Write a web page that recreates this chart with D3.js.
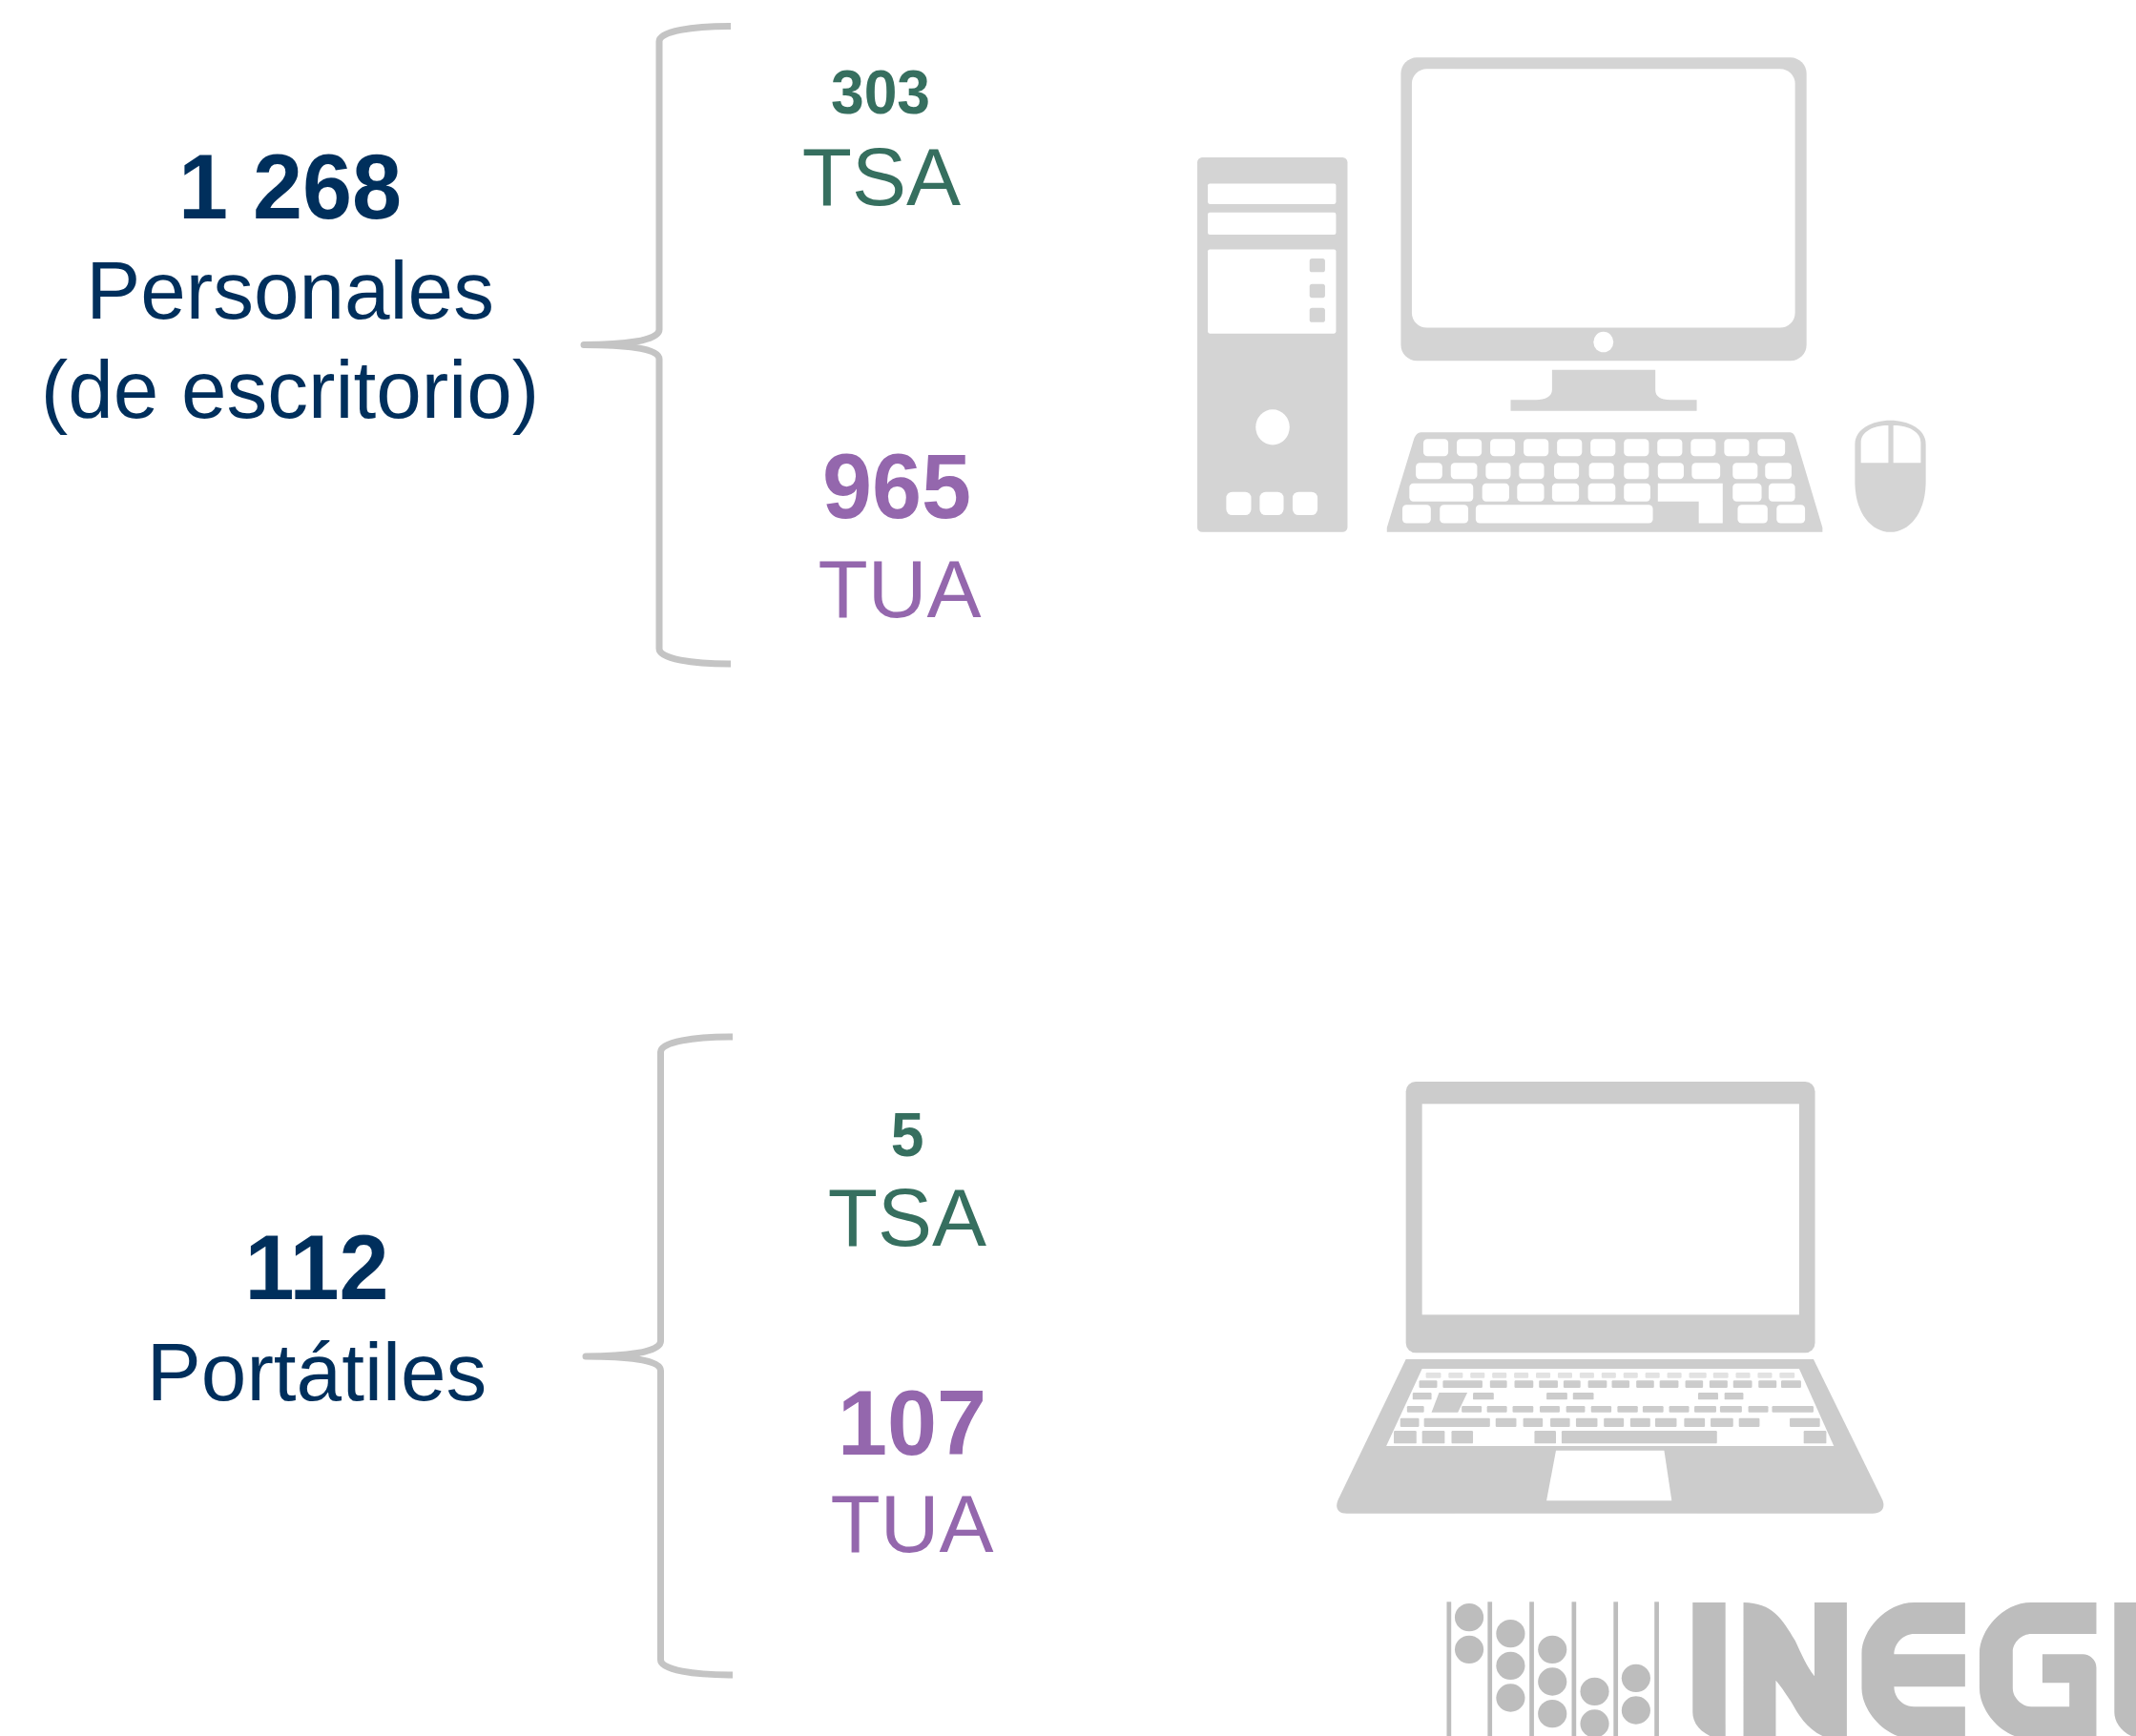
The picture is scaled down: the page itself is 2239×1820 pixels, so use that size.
<!DOCTYPE html>
<html>
<head>
<meta charset="utf-8">
<script src="https://cdn.jsdelivr.net/npm/d3@7"></script>
<style>
	html, body { margin: 0; padding: 0; background: #fff; overflow: hidden; }
	text { font-family: "Liberation Sans", Arial, sans-serif; text-anchor: middle; }
</style>
</head>
<body>
<div id="chart"></div>
<script>
// data
var groupNames = ['Personales', 'Portátiles'];
var groupNotes = ['(de escritorio)', null];
var groupTotals = [1268, 112];
var splitNames = ['TSA', 'TUA'];
var tsaValues = [303, 5];
var tuaValues = [965, 107];

var width = 2239, height = 1820;
var navy = '#002f5c', green = '#366f5f', purple = '#9467ad';
var braceColor = '#c4c4c4';
var towerGrey = '#d4d4d4', laptopGrey = '#cccccc', logoGrey = '#bdbdbd';
var labelSize = 85.5;

var fmt = d3.formatLocale({ decimal: '.', thousands: ' ', grouping: [3], currency: ['', ''] }).format(',d');

// layout, one entry per group
var totalLayout = [
	{ x: 304, total: 229, name: 334, note: 438 },
	{ x: 332, total: 1362, name: 1468 }
];
var tsaLayout = [
	{ xVal: 923, xName: 924, val: 119, name: 215, size: 64 },
	{ xVal: 951, xName: 951, val: 1212, name: 1306, size: 64 }
];
var tuaLayout = [
	{ xVal: 940, xName: 943, val: 543, name: 647, size: 96 },
	{ xVal: 956, xName: 956, val: 1525, name: 1627, size: 96 }
];
var braceLayout = [
	{ spine: 691, end: 766, tip: 612, top: 27.5, mid: 361.5, bottom: 696 },
	{ spine: 692.5, end: 768, tip: 614, top: 1087, mid: 1422, bottom: 1756 }
];

var svg = d3.select('#chart').append('svg')
	.attr('width', width)
	.attr('height', height)
	.style('display', 'block');

function addText(str, x, y, size, color, bold) {
	svg.append('text')
		.attr('transform', 'translate(' + x + ',' + y + ') scale(' + (bold ? 0.975 : 1) + ',1)')
		.attr('font-size', size)
		.attr('font-weight', bold ? 'bold' : 'normal')
		.attr('fill', color)
		.text(str);
}

// braces
function bracePath(b) {
	var p = d3.path();
	p.moveTo(b.end, b.top);
	p.bezierCurveTo(b.end - 40, b.top, b.spine, b.top + 5, b.spine, b.top + 16);
	p.lineTo(b.spine, b.mid - 16);
	p.bezierCurveTo(b.spine, b.mid - 4, b.tip + 40, b.mid, b.tip, b.mid);
	p.bezierCurveTo(b.tip + 40, b.mid, b.spine, b.mid + 3, b.spine, b.mid + 15);
	p.lineTo(b.spine, b.bottom - 16);
	p.bezierCurveTo(b.spine, b.bottom - 5, b.end - 40, b.bottom, b.end, b.bottom);
	return p.toString();
}
svg.selectAll('path.brace')
	.data(braceLayout)
	.enter()
	.append('path')
	.attr('class', 'brace')
	.attr('d', bracePath)
	.attr('fill', 'none')
	.attr('stroke', braceColor)
	.attr('stroke-width', 7)
	.attr('stroke-linejoin', 'round');

// labels
groupNames.forEach(function(name, i) {
	var t = totalLayout[i];
	addText(fmt(groupTotals[i]), t.x, t.total, 96, navy, true);
	addText(name, t.x, t.name, labelSize, navy, false);
	if (groupNotes[i]) addText(groupNotes[i], t.x, t.note, labelSize, navy, false);

	var a = tsaLayout[i];
	addText(tsaValues[i], a.xVal, a.val, a.size, green, true);
	addText(splitNames[0], a.xName, a.name, labelSize, green, false);

	var u = tuaLayout[i];
	addText(tuaValues[i], u.xVal, u.val, u.size, purple, true);
	addText(splitNames[1], u.xName, u.name, labelSize, purple, false);
});

// the icons are drawn in stretched crop coordinates, ratio keeps corners round on the page
function rects(g, list, fill, r, ratio) {
	g.selectAll(null)
		.data(list)
		.enter()
		.append('rect')
		.attr('x', function(d) { return d[0]; })
		.attr('y', function(d) { return d[2]; })
		.attr('width', function(d) { return d[1] - d[0]; })
		.attr('height', function(d) { return d[3] - d[2]; })
		.attr('rx', r)
		.attr('ry', r * ratio)
		.attr('fill', fill);
}

// turn a row of [x0, x1] spans into rect boxes
function row(spans, y0, y1) {
	return spans.map(function(s) { return [s[0], s[1], y0, y1]; });
}

// desktop icon
var pcRatio = 1.46;
var pc = svg.append('g').attr('transform', 'translate(1220,30) scale(' + (1 / 1.912) + ',' + (1 / 2.8) + ')');
rects(pc, [[67, 368, 378, 1478]], towerGrey, 10, pcRatio);
rects(pc, [[88, 345, 455, 515], [88, 345, 540, 605], [88, 345, 648, 895]], '#fff', 4, pcRatio);
rects(pc, [[292, 323, 675, 715], [292, 323, 750, 790], [292, 323, 820, 862]], towerGrey, 5, pcRatio);
pc.append('ellipse').attr('cx', 218).attr('cy', 1170).attr('rx', 34).attr('ry', 52).attr('fill', '#fff');
rects(pc, [[125, 175, 1360, 1428], [192, 240, 1360, 1428], [258, 308, 1360, 1428]], '#fff', 12, pcRatio);
rects(pc, [[475, 1288, 85, 975]], towerGrey, 32, pcRatio);
rects(pc, [[497, 1265, 118, 878]], '#fff', 30, pcRatio);
pc.append('ellipse').attr('cx', 881).attr('cy', 920).attr('rx', 20).attr('ry', 30).attr('fill', '#fff');
pc.append('path')
	.attr('d', 'M778,1002 H985 V1060 C985,1080 995,1090 1015,1090 H1068 V1122 H695 V1090 H745 C765,1090 778,1080 778,1060 Z')
	.attr('fill', towerGrey);
pc.append('path')
	.attr('d', 'M515,1185 H1255 C1262,1185 1265,1195 1268,1210 L1320,1465 V1478 H447 V1465 L500,1210 C503,1195 508,1185 515,1185 Z')
	.attr('fill', towerGrey);
var pcKeys = [].concat(
	row([[520, 570], [587, 637], [654, 704], [721, 771], [788, 838], [855, 905], [922, 972], [989, 1039], [1056, 1106], [1123, 1173], [1190, 1245]], 1205, 1255),
	row([[505, 558], [575, 628], [645, 695], [712, 762], [782, 832], [852, 902], [922, 972], [990, 1042], [1058, 1115], [1140, 1190], [1205, 1258]], 1275, 1322),
	row([[492, 620], [638, 692], [708, 762], [778, 832], [850, 905], [922, 975], [1140, 1198], [1212, 1265]], 1335, 1388),
	row([[478, 535], [553, 610], [625, 980], [1150, 1210], [1228, 1285]], 1398, 1452)
);
rects(pc, pcKeys, '#fff', 8, pcRatio);
pc.append('path')
	.attr('d', 'M990,1335 H1120 V1452 H1072 V1388 H990 Z')
	.attr('fill', '#fff');
pc.append('path')
	.attr('d', 'M1385,1220 C1385,1175 1420,1150 1456,1150 C1492,1150 1527,1175 1527,1220 V1330 C1527,1420 1495,1478 1456,1478 C1417,1478 1385,1420 1385,1330 Z')
	.attr('fill', towerGrey);
pc.append('path')
	.attr('d', 'M1397,1275 V1215 C1397,1185 1420,1165 1452,1165 V1275 Z M1462,1275 V1165 C1494,1165 1517,1185 1517,1215 V1275 Z')
	.attr('fill', '#fff');

// laptop icon
var lapRatio = 1.19;
var lap = svg.append('g').attr('transform', 'translate(1380,1110) scale(' + (1 / 2.53) + ',' + (1 / 3) + ')');
rects(lap, [[237, 1322, 72, 925]], laptopGrey, 26, lapRatio);
rects(lap, [[280, 1280, 142, 805]], '#fff', 0, lapRatio);
lap.append('path')
	.attr('d', 'M237,945 H1318 L1500,1385 C1510,1410 1500,1430 1475,1430 H80 C55,1430 48,1410 58,1385 Z')
	.attr('fill', laptopGrey);
lap.append('path')
	.attr('d', 'M280,975 H1280 L1372,1218 H185 Z')
	.attr('fill', '#fff');
lap.append('path')
	.attr('d', 'M635,1232 H922 L942,1390 H610 Z')
	.attr('fill', '#fff');
var lapTopKeys = row([[290, 330], [350, 388], [408, 446], [466, 504], [524, 562], [582, 620], [640, 678], [698, 736], [756, 794], [814, 852], [872, 910], [930, 968], [988, 1034], [1052, 1092], [1112, 1150], [1170, 1208], [1228, 1268]], 987, 1004);
rects(lap, lapTopKeys, '#e2e2e2', 3, lapRatio);
var lapKeys = [].concat(
	row([[272, 320], [335, 440], [460, 505], [525, 575], [590, 640], [655, 700], [720, 770], [783, 830], [848, 895], [910, 960], [978, 1025], [1042, 1090], [1105, 1155], [1172, 1220], [1232, 1285]], 1012, 1035),
	row([[255, 305], [415, 470], [610, 665], [680, 735], [1012, 1065], [1082, 1132]], 1050, 1072),
	row([[240, 285], [385, 438], [452, 505], [520, 575], [592, 645], [662, 712], [728, 782], [798, 852], [865, 920], [935, 988], [1002, 1060], [1070, 1128], [1145, 1198], [1208, 1318]], 1092, 1112),
	row([[222, 272], [285, 460], [475, 530], [548, 600], [620, 672], [688, 745], [762, 815], [832, 885], [898, 955], [975, 1030], [1045, 1105], [1120, 1175], [1255, 1335]], 1130, 1158),
	row([[205, 265], [280, 340], [358, 415], [578, 635], [650, 1062], [1292, 1352]], 1170, 1210)
);
rects(lap, lapKeys, laptopGrey, 3, lapRatio);
lap.append('path')
	.attr('d', 'M325,1050 H400 L375,1112 H305 Z')
	.attr('fill', laptopGrey);

// INEGI logo, runs off the page at the bottom and right
var logo = svg.append('g').attr('transform', 'translate(1500,1660) scale(' + (1 / 2.122) + ',' + (1 / 3) + ')');
rects(logo, [35, 126, 219, 313, 406, 497].map(function(x) { return [x, x + 10, 58, 490]; }), logoGrey, 0, 1);
var logoDots = [[85, 107], [85, 208], [177, 158], [177, 259], [177, 360], [270, 208], [270, 309], [270, 410], [364, 340], [364, 441], [456, 298], [456, 399]];
logo.selectAll('ellipse')
	.data(logoDots)
	.enter()
	.append('ellipse')
	.attr('cx', function(d) { return d[0]; })
	.attr('cy', function(d) { return d[1]; })
	.attr('rx', 32)
	.attr('ry', 44)
	.attr('fill', logoGrey);
var logoLetters = [
	'M582,60 H655 V490 H640 C600,475 582,440 582,405 Z',
	'M695,60 C760,62 780,110 810,180 C825,225 835,260 853,292 V60 H925 V490 H890 C840,470 820,420 800,370 C790,350 780,325 767,305 V490 H695 Z',
	'M1188,60 H1075 C1010,60 958,150 958,220 V330 C958,400 1010,490 1075,490 H1188 V388 H1075 C1050,388 1030,360 1030,325 H1188 V223 H1030 C1030,190 1050,159 1075,159 H1188 Z',
	'M1480,60 H1335 C1270,60 1220,150 1220,220 V330 C1220,400 1270,490 1335,490 H1480 V265 C1480,240 1465,223 1450,223 H1360 V313 H1420 V388 H1335 C1315,388 1294,360 1294,330 V215 C1294,185 1315,159 1335,159 H1480 Z',
	'M1520,60 H1600 V490 H1580 C1540,480 1520,440 1520,405 Z'
];
logo.selectAll('path')
	.data(logoLetters)
	.enter()
	.append('path')
	.attr('d', function(d) { return d; })
	.attr('fill', logoGrey);
</script>
</body>
</html>
